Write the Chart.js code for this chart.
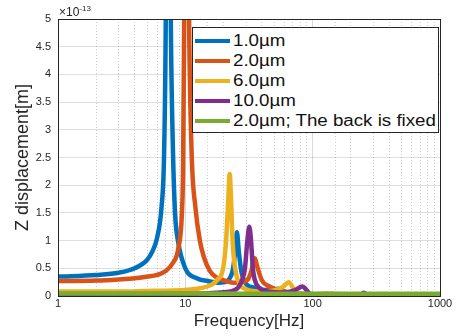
<!DOCTYPE html>
<html>
<head>
<meta charset="utf-8">
<script src="https://cdn.jsdelivr.net/npm/chart.js@4/dist/chart.umd.min.js"></script>
<style>
  body { margin: 0; background: #fff; }
  #wrap { position: relative; width: 456px; height: 336px; font-family: "Liberation Sans", Arial, sans-serif; }
  #exp { position: absolute; left: 59px; top: 4px; font-size: 12px; color: #262626; }
  #exp sup { font-size: 8px; }
  #legend { position: absolute; left: 192px; top: 27px; width: 247px; height: 106px; background: #fff;
            border: 1px solid #262626; box-sizing: border-box; padding-top: 3px; }
  .row { height: 20px; display: flex; align-items: center; font-size: 16px; color: #111; white-space: nowrap; }
  .sw { width: 35px; height: 4px; margin-left: 2px; margin-right: 3px; flex: none; }
  .tx { display: inline-block; transform: scaleX(1.17); transform-origin: left center; }
</style>
</head>
<body>
<div id="wrap">
  <canvas id="chart" width="456" height="336"></canvas>
  <div id="exp">×10<sup>-13</sup></div>
  <div id="legend"></div>
</div>
<script>
const labels = ['1.0µm', '2.0µm', '6.0µm', '10.0µm', '2.0µm; The back is fixed'];
const colors = ['#0072BD', '#D95319', '#EDB120', '#7E2F8E', '#77AC30'];

// frequency [Hz] / displacement [x1e-13 m]
const freq1 = [1, 2, 3, 4, 5, 5.5, 6, 6.5, 6.8, 7.0, 7.3, 7.7, 8.0, 8.3, 8.75, 10, 12.3, 15, 18, 20.5, 22, 23.5, 24.5, 25.4, 26.3, 27.5, 30, 35, 42, 50, 55, 60, 70, 100, 1000];
const disp1 = [0.35, 0.38, 0.42, 0.5, 0.65, 0.8, 1.05, 1.6, 2.5, 4.6, 12, 4.8, 2.6, 1.5, 1.0, 0.5, 0.32, 0.27, 0.24, 0.25, 0.3, 0.45, 0.75, 1.15, 0.8, 0.45, 0.22, 0.15, 0.11, 0.12, 0.13, 0.08, 0.04, 0.02, 0.01];

const freq2 = [1, 2, 3, 4, 5, 6, 7, 8, 8.8, 9.4, 9.6, 9.8, 10.2, 10.7, 11.2, 12, 13, 14, 15.6, 18, 21, 24, 28, 31, 33, 35, 37, 40, 45, 55, 70, 100, 130, 200, 400, 1000];
const disp2 = [0.27, 0.28, 0.3, 0.32, 0.35, 0.38, 0.45, 0.6, 0.85, 1.5, 2.3, 5, 12, 5, 2.6, 1.6, 1.0, 0.7, 0.45, 0.32, 0.27, 0.24, 0.25, 0.3, 0.45, 0.68, 0.5, 0.28, 0.18, 0.1, 0.06, 0.03, 0.04, 0.02, 0.01, 0.005];

const freq3 = [1, 3, 5, 8, 10, 13, 16, 18, 19.8, 20.9, 21.7, 22.3, 22.9, 23.5, 24.6, 27, 30, 40, 50, 58, 65, 70, 75, 100, 130, 200, 1000];
const disp3 = [0.08, 0.08, 0.09, 0.1, 0.11, 0.14, 0.2, 0.3, 0.5, 1.0, 1.7, 2.2, 1.7, 1.0, 0.5, 0.2, 0.12, 0.08, 0.1, 0.16, 0.25, 0.15, 0.05, 0.02, 0.03, 0.01, 0.005];

const freq4 = [1, 5, 10, 15, 20, 25, 28, 29.4, 30.7, 31.8, 32.8, 33.9, 35, 38, 45, 60, 72, 83, 90, 95, 150, 240, 253, 270, 400, 1000];
const disp4 = [0.03, 0.035, 0.04, 0.05, 0.07, 0.12, 0.3, 0.5, 1.0, 1.25, 1.0, 0.5, 0.3, 0.15, 0.08, 0.06, 0.1, 0.17, 0.1, 0.04, 0.02, 0.03, 0.06, 0.02, 0.01, 0.005];

const freq5 = [1, 10, 100, 1000];
const disp5 = [0.045, 0.045, 0.04, 0.04];

const yTicks = [0, 0.5, 1, 1.5, 2, 2.5, 3, 3.5, 4, 4.5, 5];
const xMajor = [1, 10, 100, 1000];

const allFreq = [freq1, freq2, freq3, freq4, freq5];
const allDisp = [disp1, disp2, disp3, disp4, disp5];

const isMajor = v => xMajor.includes(v);

// box around the axes like the original
const boxPlugin = {
    id: 'box',
    afterDraw(chart) {
        const a = chart.chartArea, c = chart.ctx;
        c.save();
        c.strokeStyle = '#262626';
        c.lineWidth = 1;
        c.strokeRect(Math.round(a.left) + 0.5, Math.round(a.top) + 0.5, Math.round(a.right - a.left), Math.round(a.bottom - a.top));
        c.restore();
    }
};

const ctx = document.getElementById('chart').getContext('2d');
new Chart(ctx, {
    type: 'line',
    data: {
        datasets: labels.map((lab, i) => ({
            label: lab,
            data: allFreq[i].map((f, j) => ({ x: f, y: allDisp[i][j] })),
            borderColor: colors[i],
            backgroundColor: colors[i],
            borderWidth: 4.5,
            pointRadius: 0,
            cubicInterpolationMode: 'monotone',
            order: 5 - i
        }))
    },
    options: {
        responsive: false,
        animation: false,
        layout: { padding: { left: 0, right: 16, top: 19, bottom: 0 } },
        plugins: { legend: { display: false }, tooltip: { enabled: false } },
        scales: {
            x: {
                type: 'logarithmic',
                min: 1, max: 1000,
                afterBuildTicks: s => { s.ticks = s.ticks.filter(t => isMajor(t.value)); },
                afterFit: s => { s.height = 40; },
                ticks: {
                    autoSkip: false, maxRotation: 0, padding: 1,
                    color: '#262626', font: { family: 'Liberation Sans', size: 11 },
                    callback: v => isMajor(v) ? String(v) : ''
                },
                grid: { color: 'rgba(0,0,0,0.15)', drawTicks: false },
                border: { display: false },
                title: {
                    display: true, text: 'Frequency[Hz]', color: '#262626',
                    font: { family: 'Liberation Sans', size: 17 }, padding: { top: 0, bottom: 4 }
                }
            },
            xMinor: {
                type: 'logarithmic',
                position: 'bottom',
                min: 1, max: 1000,
                afterBuildTicks: s => { s.ticks = s.ticks.filter(t => !isMajor(t.value)); },
                afterFit: s => { s.height = 0; },
                ticks: { display: false },
                grid: { color: 'rgba(0,0,0,0.2)', drawTicks: false },
                border: { display: false, dash: [1, 2] }
            },
            y: {
                min: 0, max: 5,
                afterBuildTicks: s => { s.ticks = yTicks.map(v => ({ value: v })); },
                afterFit: s => { s.width = 58; },
                ticks: {
                    padding: 7, color: '#262626', font: { family: 'Liberation Sans', size: 11 },
                    callback: v => String(v)
                },
                grid: { color: 'rgba(0,0,0,0.13)', drawTicks: false },
                border: { display: false },
                title: {
                    display: true, text: 'Z displacement[m]', color: '#262626',
                    font: { family: 'Liberation Sans', size: 18 }, padding: { top: 12, bottom: 0 }
                }
            }
        }
    },
    plugins: [boxPlugin]
});

// legend inside the axes
const leg = document.getElementById('legend');
labels.forEach((lab, i) => {
    const row = document.createElement('div');
    row.className = 'row';
    row.innerHTML = '<span class="sw" style="background:' + colors[i] + '"></span><span class="tx">' + lab + '</span>';
    leg.appendChild(row);
});
</script>
</body>
</html>
